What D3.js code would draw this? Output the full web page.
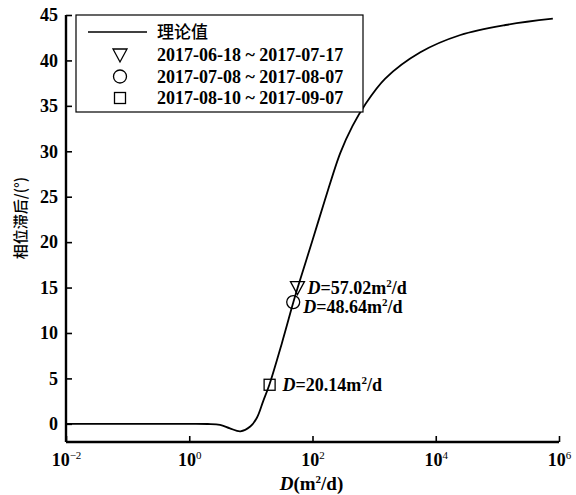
<!DOCTYPE html>
<html>
<head>
<meta charset="utf-8">
<script src="https://cdn.jsdelivr.net/npm/d3@7"></script>
<style>
  body { margin: 0; background: #fff; }
  text { fill: #000; }
</style>
</head>
<body>
<div id="chart"></div>
<script>
// theoretical curve (log10 D, phase lag in degrees)
var curveLogD = [-2, 0, 0.3, 0.5, 0.66, 0.83, 0.99, 1.1, 1.2, 1.3, 1.5, 1.69, 1.76, 2.0, 2.2, 2.45, 2.65, 2.85, 3.18, 3.75, 4.4, 5.13, 5.9];
var curvePhase = [0, 0, -0.02, -0.12, -0.5, -0.82, -0.3, 0.7, 2.5, 4.3, 8.8, 13.4, 15.0, 20.2, 24.6, 29.8, 32.8, 35.1, 38.0, 40.9, 42.8, 43.9, 44.6];

// observed periods
var periods = ["2017-06-18 ~ 2017-07-17", "2017-07-08 ~ 2017-08-07", "2017-08-10 ~ 2017-09-07"];
var obsD = [57.02, 48.64, 20.14];
var obsPhase = [15.0, 13.4, 4.3];
var markers = ["triangle", "circle", "square"];

var xTicks = [1e-2, 1e0, 1e2, 1e4, 1e6];
var yTicks = [0, 5, 10, 15, 20, 25, 30, 35, 40, 45];

var W = 576, H = 495;
var margin = { top: 15, right: 17, bottom: 53, left: 66 };
var width = W - margin.left - margin.right,
    height = H - margin.top - margin.bottom;

var serif = "'Liberation Serif', 'Times New Roman', serif";
var cjk = "'Noto Sans CJK SC', sans-serif";

var svg = d3.select("#chart").append("svg")
    .attr("width", W).attr("height", H)
    .append("g")
    .attr("transform", "translate(" + margin.left + "," + margin.top + ")");

var x = d3.scaleLog().domain([1e-2, 1e6]).range([0, width]);
var y = d3.scaleLinear().domain([-2, 45]).range([height, 0]);

// axes with inward ticks
var xAxis = svg.append("g")
    .attr("transform", "translate(0," + height + ")")
    .call(d3.axisBottom(x).tickValues(xTicks).tickSize(-6).tickFormat(""));
xAxis.select(".domain").attr("stroke-width", 2.4).attr("d", "M0,0H" + width);
xAxis.selectAll(".tick line").attr("stroke-width", 1.6);
xAxis.selectAll(".tick").append("text")
    .attr("y", 24)
    .attr("text-anchor", "middle")
    .style("font-family", serif).style("font-size", "18px").style("font-weight", "bold")
    .each(function (d) {
        var t = d3.select(this);
        var p = Math.round(Math.log10(d));
        t.append("tspan").text("10");
        t.append("tspan").attr("dy", -7).style("font-size", "11px").style("font-weight", "normal")
            .text(p < 0 ? "\u2212" + Math.abs(p) : p);
    });

var yAxis = svg.append("g")
    .call(d3.axisLeft(y).tickValues(yTicks).tickSize(-6));
yAxis.select(".domain").attr("stroke-width", 2.4).attr("d", "M0," + height + "V0");
yAxis.selectAll(".tick line").attr("stroke-width", 1.6);
yAxis.selectAll(".tick text")
    .attr("x", -8)
    .style("font-family", serif).style("font-size", "18px").style("font-weight", "bold");

// axis titles
svg.append("text")
    .attr("transform", "translate(" + (-40) + "," + 203 + ") rotate(-90)")
    .attr("text-anchor", "middle")
    .style("font-family", cjk).style("font-size", "15px").style("font-weight", "500")
    .text("相位滞后/(°)");

var xt = svg.append("text")
    .attr("x", width / 2 - 1).attr("y", height + 48)
    .attr("text-anchor", "middle")
    .style("font-family", serif).style("font-size", "19px").style("font-weight", "bold");
xt.append("tspan").style("font-style", "italic").text("D");
xt.append("tspan").text("(m");
xt.append("tspan").attr("dy", -7).style("font-size", "11px").text("2");
xt.append("tspan").attr("dy", 7).text("/d)");

// theoretical curve
var line = d3.line()
    .x(function (d) { return x(Math.pow(10, d[0])); })
    .y(function (d) { return y(d[1]); })
    .curve(d3.curveCatmullRom.alpha(0.5));

svg.append("path")
    .datum(d3.zip(curveLogD, curvePhase))
    .attr("fill", "none")
    .attr("stroke", "#000")
    .attr("stroke-width", 1.8)
    .attr("d", line);

// marker shapes
function drawMarker(g, type) {
    if (type === "triangle") {
        g.append("path").attr("d", "M-7,-6L7,-6L0,7Z");
    } else if (type === "circle") {
        g.append("circle").attr("r", 6.5);
    } else {
        g.append("rect").attr("x", -5.5).attr("y", -5.5).attr("width", 11).attr("height", 11);
    }
    g.selectAll("*").attr("fill", "none").attr("stroke", "#000").attr("stroke-width", 1.3);
}

var labelOffset = [[10, 6], [10, 11], [13, 6]];
obsD.forEach(function (d, i) {
    var g = svg.append("g")
        .attr("transform", "translate(" + x(d) + "," + y(obsPhase[i]) + ")");
    drawMarker(g, markers[i]);
    var t = g.append("text")
        .attr("x", labelOffset[i][0]).attr("y", labelOffset[i][1])
        .style("font-family", serif).style("font-size", "18px").style("font-weight", "bold");
    t.append("tspan").style("font-style", "italic").text("D");
    t.append("tspan").text("=" + d.toFixed(2) + "m");
    t.append("tspan").attr("dy", -7).style("font-size", "11px").text("2");
    t.append("tspan").attr("dy", 7).text("/d");
});

// legend
var legend = svg.append("g").attr("transform", "translate(10,0)");
legend.append("rect")
    .attr("width", 287).attr("height", 97)
    .attr("fill", "#fff").attr("stroke", "#000").attr("stroke-width", 1.2);

legend.append("line")
    .attr("x1", 12).attr("x2", 71).attr("y1", 17).attr("y2", 17)
    .attr("stroke", "#000").attr("stroke-width", 1.6);
legend.append("text")
    .attr("x", 81).attr("y", 23)
    .style("font-family", cjk).style("font-size", "17px").style("font-weight", "500")
    .text("理论值");

periods.forEach(function (p, i) {
    var row = legend.append("g").attr("transform", "translate(0," + (40 + i * 21.5) + ")");
    var m = row.append("g").attr("transform", "translate(44,0)");
    drawMarker(m, markers[i]);
    row.append("text")
        .attr("x", 81).attr("y", 6)
        .style("font-family", serif).style("font-size", "18px").style("font-weight", "bold")
        .text(p);
});
</script>
</body>
</html>
